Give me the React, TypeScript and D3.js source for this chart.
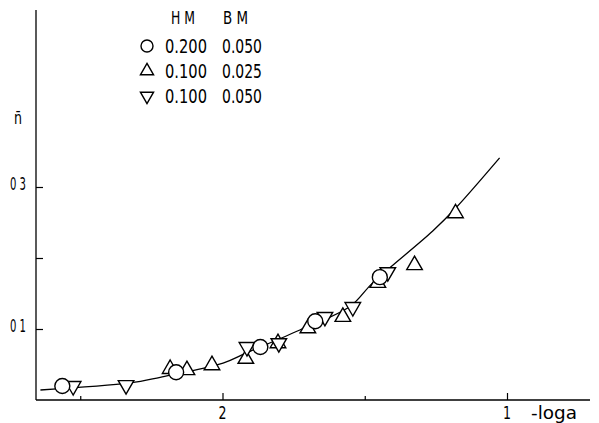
import React, { useRef, useEffect } from 'react';
import * as d3 from 'd3';

// circles: HM 0.200, BM 0.050
const circleX = [2.563, 2.163, 1.867, 1.674, 1.447];
const circleN = [0.0197, 0.039, 0.0746, 0.111, 0.173];
// up triangles: HM 0.100, BM 0.025
const upX = [2.184, 2.125, 2.037, 1.918, 1.805, 1.700, 1.577, 1.454, 1.325, 1.181];
const upN = [0.0437, 0.042, 0.049, 0.058, 0.080, 0.101, 0.117, 0.165, 0.190, 0.263];
// down triangles: HM 0.100, BM 0.050
const downX = [2.525, 2.339, 1.914, 1.802, 1.640, 1.542, 1.419];
const downN = [0.0197, 0.021, 0.0746, 0.080, 0.117, 0.131, 0.180];
// fitted curve
const curveX = [2.640, 2.325, 2.219, 1.998, 1.918, 1.728, 1.551, 1.472, 1.261, 1.181, 1.026];
const curveN = [0.0141, 0.024, 0.032, 0.052, 0.066, 0.0986, 0.132, 0.165, 0.238, 0.270, 0.341];

const xTicks = [2.5, 2, 1.5, 1];
const xMajor = [2, 1];
const xLabels = ['2', '1'];
const yTicks = [0.1, 0.2, 0.3];
const yLabelValues = [0.1, 0.3];
const yLabelTexts = ['0 1', '0 3'];

const legendHM = ['0.200', '0.100', '0.100'];
const legendBM = ['0.050', '0.025', '0.050'];
const legendShapes = ['circle', 'up', 'down'];

const FONT = "'DejaVu Sans', sans-serif";

const App = () => {
  const svgRef = useRef(null);

  useEffect(() => {
    const width = 599;
    const height = 423;

    d3.select(svgRef.current).selectAll('*').remove();

    const svg = d3.select(svgRef.current)
      .attr('width', width)
      .attr('height', height);

    const xScale = d3.scaleLinear().domain([2, 1]).range([222.5, 507]);
    const yScale = d3.scaleLinear().domain([0, 0.1]).range([400, 329]);

    const x0 = 36;
    const xEnd = 590;
    const yTop = 10;

    // narrow text helper (the original lettering is very condensed)
    const label = (g, x, y, txt, len, size = 18, anchor = 'start') =>
      g.append('text')
        .attr('x', x)
        .attr('y', y)
        .attr('text-anchor', anchor)
        .attr('textLength', len)
        .attr('lengthAdjust', 'spacingAndGlyphs')
        .style('font-family', FONT)
        .style('font-size', size + 'px')
        .text(txt);

    // axes
    svg.append('line')
      .attr('x1', x0).attr('x2', x0)
      .attr('y1', yScale(0)).attr('y2', yTop)
      .attr('stroke', '#000').attr('stroke-width', 1.3);
    svg.append('line')
      .attr('x1', x0).attr('x2', xEnd)
      .attr('y1', yScale(0)).attr('y2', yScale(0))
      .attr('stroke', '#000').attr('stroke-width', 1.3);

    svg.append('g')
      .attr('transform', `translate(${x0},0)`)
      .call(d3.axisRight(yScale).tickValues(yTicks).tickSize(7).tickFormat(() => ''))
      .call(g => g.select('.domain').remove())
      .call(g => g.selectAll('line').attr('stroke-width', 1.2));

    svg.append('g')
      .attr('transform', `translate(0,${yScale(0)})`)
      .call(d3.axisTop(xScale).tickValues(xTicks).tickSizeOuter(0).tickFormat(() => ''))
      .call(g => g.select('.domain').remove())
      .call(g => g.selectAll('.tick line')
        .attr('y2', d => (xMajor.includes(d) ? -7 : -4))
        .attr('stroke-width', 1.2));

    // tick labels
    yLabelValues.forEach((v, i) => {
      label(svg, 10, yScale(v) + 3, yLabelTexts[i], 16, 18);
    });
    xMajor.forEach((v, i) => {
      label(svg, xScale(v) - 4, 419, xLabels[i], 8, 18);
    });
    label(svg, 531, 419, '-loga', 46, 18);
    label(svg, 14, 124, 'n\u0304', 8, 17);

    // fitted curve
    const line = d3.line()
      .x(d => xScale(d[0]))
      .y(d => yScale(d[1]))
      .curve(d3.curveCatmullRom.alpha(0.5));

    svg.append('path')
      .datum(curveX.map((v, i) => [v, curveN[i]]))
      .attr('fill', 'none')
      .attr('stroke', '#000')
      .attr('stroke-width', 1.3)
      .attr('d', line);

    const triPath = d3.symbol(d3.symbolTriangle, 105)();
    const triSmall = d3.symbol(d3.symbolTriangle, 75)();

    const drawShape = (g, shape, px, py, small) => {
      if (shape === 'circle') {
        g.append('circle')
          .attr('cx', px).attr('cy', py)
          .attr('r', small ? 6 : 7.5)
          .attr('fill', '#fff').attr('stroke', '#000').attr('stroke-width', 1.4);
      } else {
        g.append('path')
          .attr('d', small ? triSmall : triPath)
          .attr('transform', `translate(${px},${py})${shape === 'down' ? ' rotate(180)' : ''}`)
          .attr('fill', '#fff').attr('stroke', '#000').attr('stroke-width', 1.4);
      }
    };

    const marks = svg.append('g');
    upX.forEach((v, i) => drawShape(marks, 'up', xScale(v), yScale(upN[i])));
    downX.forEach((v, i) => drawShape(marks, 'down', xScale(v), yScale(downN[i])));
    circleX.forEach((v, i) => drawShape(marks, 'circle', xScale(v), yScale(circleN[i])));

    // legend
    const legend = svg.append('g');
    label(legend, 171, 24, 'H M', 24, 18);
    label(legend, 223, 24, 'B M', 25, 18);

    legendShapes.forEach((s, i) => {
      const cy = 46 + i * 25;
      drawShape(legend, s, 147, cy, true);
      label(legend, 165, cy + 7, legendHM[i], 42, 19);
      label(legend, 222, cy + 7, legendBM[i], 40, 19);
    });
  }, []);

  return <svg ref={svgRef} style={{ position: 'absolute', left: 0, top: 0 }}></svg>;
};

export default App;
